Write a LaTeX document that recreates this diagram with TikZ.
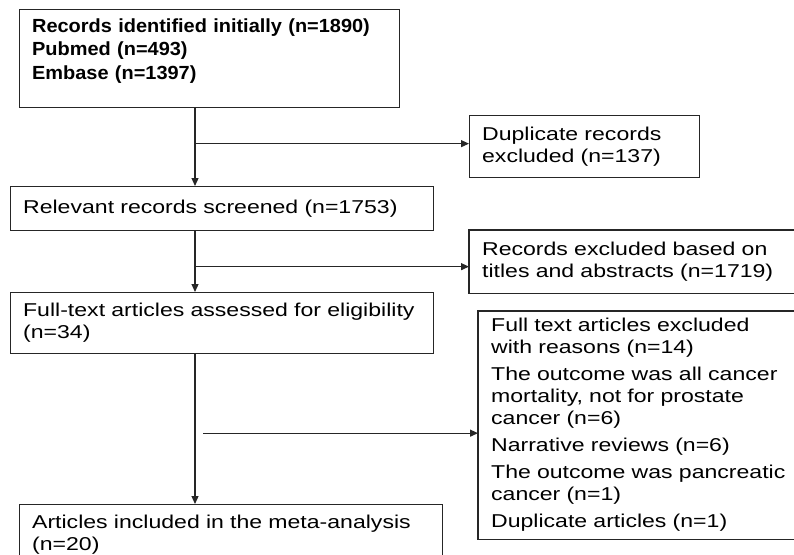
\documentclass[tikz,border=0pt]{standalone}
\usepackage{fontspec}
\setmainfont[FakeStretch=1.24]{Liberation Sans}
\newfontfamily\headfont[FakeStretch=1.05]{Liberation Sans}
\usepackage{tikz}
\usetikzlibrary{arrows.meta}

\begin{document}
\begin{tikzpicture}[x=1pt,y=-1pt]
\useasboundingbox (0,0) rectangle (794,554);

 \tikzstyle{every path}=[line width=1.3pt]

\tikzstyle{flowbox}=[draw=black!85,anchor=north west,align=left,inner xsep=12.5pt,inner ysep=0pt,
 font=\fontsize{18.6}{22}\selectfont]
\tikzstyle{headbox}=[flowbox,font=\headfont\bfseries\fontsize{19}{23.5}\selectfont]
\tikzstyle{openbox}=[flowbox,draw=none]
\tikzstyle{boxline}=[draw=black!85,line width=1.3pt]
\tikzstyle{flowarrow}=[draw=black!85,-{Triangle[length=8pt,width=7pt]},line width=1.2pt]

%% Main column
\node [headbox,text width=355pt,minimum height=98pt] (ident) at (19,9)
 {Records identified initially (n=1890)\\Pubmed (n=493)\\Embase (n=1397)\\[-4pt]\mbox{}};
\node [flowbox,text width=398pt,minimum height=44pt] (screen) at (10,186)
 {Relevant records screened (n=1753)};
\node [flowbox,text width=398pt,minimum height=61pt] (full) at (10,292)
 {Full-text articles assessed for eligibility\\(n=34)};
\node [flowbox,text width=398pt,minimum height=60pt] (incl) at (19,504)
 {Articles included in the meta-analysis\\(n=20)};

%% Exclusions (the two lower boxes run off the right edge)
\node [flowbox,text width=205pt,minimum height=62pt] (dup) at (469,115)
 {Duplicate records\\excluded (n=137)};
\node [openbox,text width=360pt,minimum height=62pt] (excl) at (469,230)
 {Records excluded based on\\titles and abstracts (n=1719)};
\node [openbox,text width=350pt,minimum height=227pt] (reasons) at (478,311)
 {Full text articles excluded\\with reasons (n=14)\\[5pt]
  The outcome was all cancer\\mortality, not for prostate\\cancer (n=6)\\[5pt]
  Narrative reviews (n=6)\\[5pt]
  The outcome was pancreatic\\cancer (n=1)\\[5pt]
  Duplicate articles (n=1)};
\draw [boxline] (excl.north east) -- (excl.north west) -- (excl.south west) -- (excl.south east);
\draw [boxline] (reasons.north east) -- (reasons.north west) -- (reasons.south west) -- (reasons.south east);

%% Arrows
\coordinate (spine) at (195,0);
\draw [flowarrow] (ident.south -| spine) -- (screen.north -| spine);
\draw [flowarrow] (screen.south -| spine) -- (full.north -| spine);
\draw [flowarrow] (full.south -| spine) -- (incl.north -| spine);

\path ([yshift=3pt]dup.west) coordinate (dupin);
\path ([yshift=-5pt]excl.west) coordinate (exclin);
\path ([yshift=-8pt]reasons.west) coordinate (reasonsin);
\coordinate (reasonsout) at ([xshift=8pt]spine |- reasonsin);

\draw [flowarrow] (spine |- dupin) -- (dupin);
\draw [flowarrow] (spine |- exclin) -- (exclin);
\draw [flowarrow] (reasonsout) -- (reasonsin);

\end{tikzpicture}
\end{document}
